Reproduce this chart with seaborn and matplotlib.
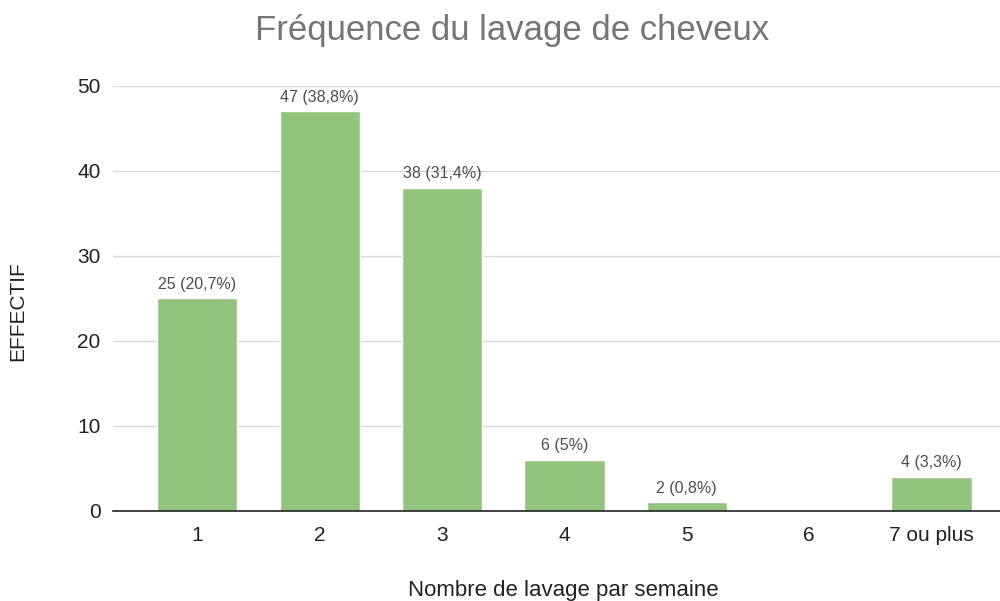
import matplotlib
matplotlib.use("Agg")
import matplotlib.pyplot as plt
import seaborn as sns
import pandas as pd

categories = ["1", "2", "3", "4", "5", "6", "7 ou plus"]
values = [25, 47, 38, 6, 1, 0, 4]
bar_labels = ["25 (20,7%)", "47 (38,8%)", "38 (31,4%)", "6 (5%)", "2 (0,8%)", "", "4 (3,3%)"]
yticks = [0, 10, 20, 30, 40, 50]

sns.set_theme(style="white")
plt.rcParams['font.family'] = ['Liberation Sans', 'DejaVu Sans']

df = pd.DataFrame({"cat": categories, "val": values})

fig = plt.figure(figsize=(10, 6.01), dpi=100)
ax = fig.add_axes([0.113, 0.1498, 0.887, 0.7072])
sns.barplot(data=df, x="cat", y="val", color="#93c47d", saturation=1, width=0.655, ax=ax)

ax.set_ylim(0, 50)
ax.set_xlim(-0.69, 6.56)
ax.set_yticks(yticks)
ax.set_yticklabels([str(t) for t in yticks], fontsize=15, color="#222222")
ax.tick_params(axis='x', labelsize=15, colors="#222222", length=0, pad=11)
ax.tick_params(axis='y', length=0, pad=9)
ax.yaxis.grid(True, color="#d9d9d9", linewidth=1)
ax.set_axisbelow(True)
for s in ["top", "right", "left"]:
    ax.spines[s].set_visible(False)
ax.spines["bottom"].set_color("#222222")
ax.spines["bottom"].set_linewidth(1.2)

for i, (v, lab) in enumerate(zip(values, bar_labels)):
    if lab:
        ax.annotate(lab, (i, v), xytext=(0, 5), textcoords="offset points",
                    ha="center", va="bottom", fontsize=11.5, color="#4d4d4d")

ax.set_xlabel("Nombre de lavage par semaine", fontsize=16, color="#222222")
ax.xaxis.set_label_coords(0.508, -0.162)
ax.set_ylabel("EFFECTIF", fontsize=15, color="#222222")
ax.yaxis.set_label_coords(-0.097, 0.47)
fig.text(0.512, 0.949, "Fréquence du lavage de cheveux", ha="center", va="center",
         fontsize=25, color="#757575")

fig.savefig("out.png", dpi=100)
